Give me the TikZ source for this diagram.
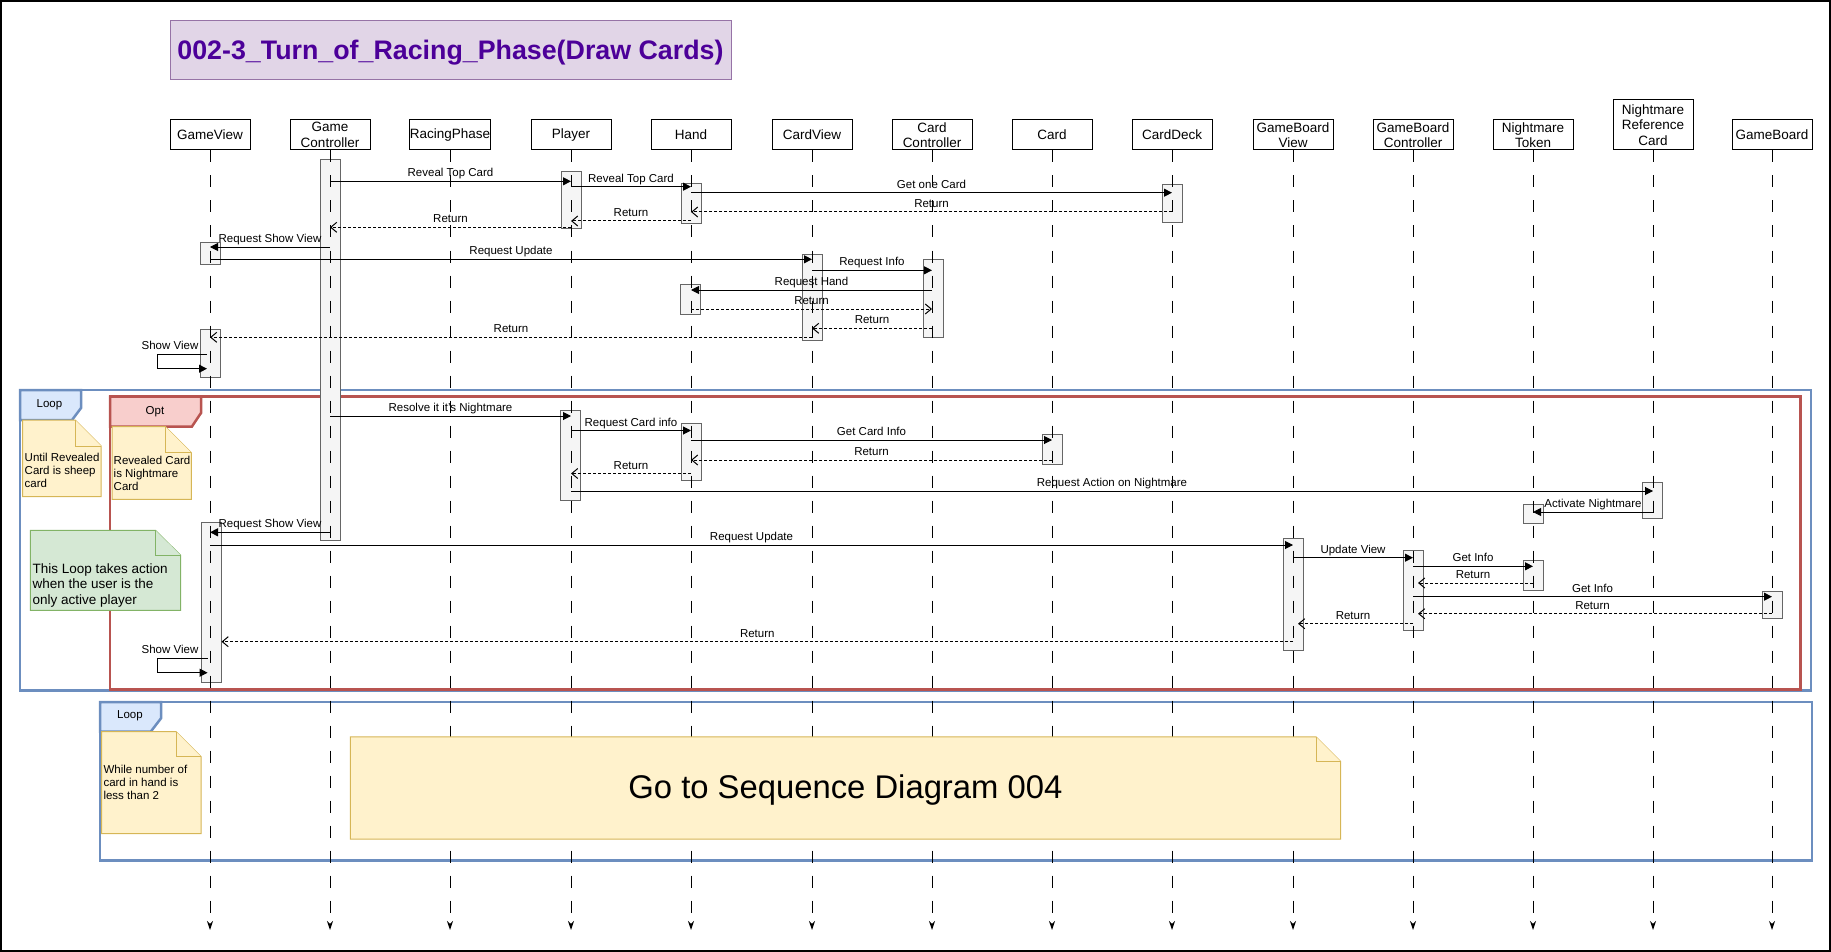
\documentclass[tikz,border=0pt]{standalone}
\usepackage{fontspec}
\setmainfont{Liberation Sans}
\usetikzlibrary{arrows.meta}

\definecolor{loopblue}{HTML}{6C8EBF}
\definecolor{loopfill}{HTML}{DAE8FC}
\definecolor{optred}{HTML}{B85450}
\definecolor{optfill}{HTML}{F8CECC}
\definecolor{noteline}{HTML}{D6B656}
\definecolor{notefill}{HTML}{FFF2CC}
\definecolor{greenline}{HTML}{82B366}
\definecolor{greenfill}{HTML}{D5E8D4}
\definecolor{titleline}{HTML}{9673A6}
\definecolor{titlefill}{HTML}{E1D5E7}
\definecolor{titletext}{HTML}{4C0099}
\definecolor{actline}{HTML}{666666}
\definecolor{actfill}{HTML}{F5F5F5}

\begin{document}
\begin{tikzpicture}[
        x=1pt, y=-1pt,
        every node/.style={inner sep=0pt, font=\fontsize{11.5}{13}\selectfont},
        head/.style={draw, fill=white, line width=1pt, minimum width=80pt, minimum height=30pt,
          align=center, font=\fontsize{13.5}{15.5}\selectfont},
        life/.style={line width=1pt, dash pattern=on 12pt off 13pt, -{Stealth[length=9pt,width=6pt]}},
        act/.style={draw=actline, fill=actfill, line width=1pt, minimum width=20pt},
        msg/.style={line width=1pt, -{Triangle[length=8pt,width=8pt]}},
        ret/.style={line width=1pt, dash pattern=on 3pt off 2pt, -{Straight Barb[length=6pt,width=10pt]}},
        lbl/.style={anchor=base, yshift=4.5pt},
        frameloop/.style={draw=loopblue, line width=2.5pt},
        frameopt/.style={draw=optred, line width=2.5pt},
        note/.style={draw=noteline, fill=notefill, line width=1pt},
        greennote/.style={draw=greenline, fill=greenfill, line width=1pt},
        notetxt/.style={anchor=north west, align=left}
      ]
      \useasboundingbox (0,0) rectangle (1831,952);
      \draw[line width=2pt] (1,1) rectangle (1830,951);

      % title
      \draw[draw=titleline, fill=titlefill, line width=1pt] (170,20.7) rectangle (731,80);
      \node[anchor=base, text=titletext, font=\fontsize{26.8}{32}\selectfont\bfseries] (title)
        at (450.5,59.6) {002-3\_Turn\_of\_Racing\_Phase(Draw Cards)};

      % frames
      \draw[frameloop] (20,390) rectangle (1811,690.7);
      \draw[frameloop, fill=loopfill] (20,390) -- (81,390) -- (81,408) -- (72,420) -- (20,420) -- cycle;
      \node (loop1) at (49.4,405) {Loop};
      \draw[frameopt] (110,396.7) rectangle (1800.4,689.3);
      \draw[frameopt, fill=optfill] (110,396.7) -- (201,396.7) -- (201,413) -- (191.8,426.7) -- (110,426.7) -- cycle;
      \node (opt) at (155,412) {Opt};
      \draw[frameloop] (100,702) rectangle (1812,860.5);
      \draw[frameloop, fill=loopfill] (100,702) -- (161,702) -- (161,718.3) -- (150.7,731.7) -- (100,731.7) -- cycle;
      \node (loop2) at (130,716) {Loop};

      % lifelines
      \foreach \n/\x/\t in {gv/210/GameView, gc/330/{Game\\Controller}, rp/450/RacingPhase,
          pl/571/Player, hd/691/Hand, cv/812/CardView, cc/932/{Card\\Controller}, cd/1052/Card,
          dk/1172/CardDeck, gbv/1293/{GameBoard\\View}, gbc/1413/{GameBoard\\Controller},
          nt/1533/{Nightmare\\Token}, gb/1772/GameBoard}
        \node[head] (\n) at (\x,135) {\t};
      \node[head, minimum height=50pt] (nrc) at (1653,125) {Nightmare\\Reference\\Card};

      % activations
      \node[act, minimum height=380pt] (gca) at (gc |- 0,350) {};
      \node[act, minimum height=56.6pt] (pla1) at (pl |- 0,200) {};
      \node[act, minimum height=40pt] (hda1) at (hd |- 0,203.3) {};
      \node[act, minimum height=38pt] (dka) at (dk |- 0,203.3) {};
      \node[act, minimum height=22.3pt] (gva1) at (gv |- 0,253.2) {};
      \node[act, minimum height=86.4pt] (cva) at (cv |- 0,297.5) {};
      \node[act, minimum height=78.3pt] (cca) at (933,298.2) {};
      \node[act, minimum height=30pt] (hda2) at (690,299.3) {};
      \node[act, minimum height=48pt] (gva2) at (210.5,353) {};
      \node[act, minimum height=89.3pt] (pla2) at (570,455.4) {};
      \node[act, minimum height=56.7pt] (hda3) at (hd |- 0,451.7) {};
      \node[act, minimum height=30pt] (cda) at (cd |- 0,449.3) {};
      \node[act, minimum height=36.4pt] (nrca) at (1652,500.5) {};
      \node[act, minimum height=19.4pt] (nta1) at (nt |- 0,514) {};
      \node[act, minimum height=160pt] (gva3) at (211,602.3) {};
      \node[act, minimum height=112.4pt] (gbva) at (gbv |- 0,594.5) {};
      \node[act, minimum height=80pt] (gbca) at (gbc |- 0,590.3) {};
      \node[act, minimum height=30pt] (nta2) at (nt |- 0,575.3) {};
      \node[act, minimum height=27.7pt] (gba) at (gb |- 0,604.9) {};

      \foreach \n in {gv,gc,rp,pl,hd,cv,cc,cd,dk,gbv,gbc,nt,nrc,gb}
        \draw[life] (\n.south) -- (\n |- 0,930);

      % messages, draw phase
      \draw[msg] (gc |- 0,181.3) -- node[lbl] {Reveal Top Card} (pl |- 0,181.3);
      \draw[msg] (pl |- 0,186.7) -- node[lbl] {Reveal Top Card} (hd |- 0,186.7);
      \draw[msg] (hd |- 0,192.7) -- node[lbl] {Get one Card} (dk |- 0,192.7);
      \draw[ret] (dk |- 0,212) -- node[lbl] {Return} (hd |- 0,212);
      \draw[ret] (hd |- 0,221) -- node[lbl] {Return} (pl |- 0,221);
      \draw[ret] (pl |- 0,227.3) -- node[lbl] {Return} (gc |- 0,227.3);
      \draw[msg] (gc |- 0,247) -- node[lbl] {Request Show View} (gv |- 0,247);
      \draw[msg] (gv |- 0,259.3) -- node[lbl] {Request Update} (cv |- 0,259.3);
      \draw[msg] (cv |- 0,270.3) -- node[lbl] {Request Info} (cc |- 0,270.3);
      \draw[msg] (cc |- 0,290) -- node[lbl] {Request Hand} (hd |- 0,290);
      \draw[ret] (hd |- 0,309) -- node[lbl] {Return} (cc |- 0,309);
      \draw[ret] (cc |- 0,328.3) -- node[lbl] {Return} (cv |- 0,328.3);
      \draw[ret] (cv |- 0,337.3) -- node[lbl] {Return} (gv |- 0,337.3);
      \coordinate (sv1) at (207,354.3);
      \draw[msg] (sv1) -- ++(-50,0) -- ++(0,14.4) -- ++(50,0);
      \node[anchor=base] (sv1l) at (170,349.5) {Show View};

      % messages, loop and opt
      \draw[msg] (gc |- 0,416) -- node[lbl] {Resolve it it's Nightmare} (pl |- 0,416);
      \draw[msg] (pl |- 0,430.5) -- node[lbl] {Request Card info} (hd |- 0,430.5);
      \draw[msg] (hd |- 0,440) -- node[lbl] {Get Card Info} (cd |- 0,440);
      \draw[ret] (cd |- 0,460) -- node[lbl] {Return} (hd |- 0,460);
      \draw[ret] (hd |- 0,473.5) -- node[lbl] {Return} (pl |- 0,473.5);
      \draw[msg] (pl |- 0,491) -- node[lbl] {Request Action on Nightmare} (nrc |- 0,491);
      \draw[msg] (nrc |- 0,512) -- node[lbl] {Activate Nightmare} (nt |- 0,512);
      \draw[msg] (gc |- 0,532.3) -- node[lbl] {Request Show View} (gv |- 0,532.3);
      \draw[msg] (gv |- 0,545) -- node[lbl] {Request Update} (gbv |- 0,545);
      \draw[msg] (gbv |- 0,557.7) -- node[lbl] {Update View} (gbc |- 0,557.7);
      \draw[msg] (gbc |- 0,566.3) -- node[lbl] {Get Info} (nt |- 0,566.3);
      \draw[ret, shorten >=5pt] (nt |- 0,583) -- node[lbl] {Return} (gbc |- 0,583);
      \draw[msg] (gbc |- 0,596.7) -- node[lbl] {Get Info} (gb |- 0,596.7);
      \draw[ret, shorten >=5pt] (gb |- 0,613.7) -- node[lbl] {Return} (gbc |- 0,613.7);
      \draw[ret, shorten >=5pt] (gbc |- 0,623.7) -- node[lbl] {Return} (gbv |- 0,623.7);
      \draw[ret] (gbv |- 0,641.7) -- node[lbl] {Return} (gva3.east |- 0,641.7);
      \coordinate (sv2) at (207.6,658.3);
      \draw[msg] (sv2) -- ++(-50,0) -- ++(0,14.4) -- ++(50,0);
      \node[anchor=base] (sv2l) at (170,653) {Show View};

      % notes
      \draw[note] (22.5,420) -- (75.2,420) -- (101.2,446) -- (101.2,496.7) -- (22.5,496.7) -- cycle;
      \draw[note] (75.2,420) -- (75.2,446) -- (101.2,446);
      \node[notetxt] (n1) at (24.5,452.6) {Until Revealed\\Card is sheep\\card};
      \draw[note] (112,426.7) -- (165.4,426.7) -- (191.4,452.7) -- (191.4,499.3) -- (112,499.3) -- cycle;
      \draw[note] (165.4,426.7) -- (165.4,452.7) -- (191.4,452.7);
      \node[notetxt] (n2) at (113.5,455.6) {Revealed Card\\is Nightmare\\Card};
      \draw[greennote] (30.4,530.3) -- (155.4,530.3) -- (180.7,555.3) -- (180.7,610.3) -- (30.4,610.3) -- cycle;
      \draw[greennote] (155.4,530.3) -- (155.4,555.3) -- (180.7,555.3);
      \node[notetxt, font=\fontsize{13.5}{15.5}\selectfont] (n3) at (32.4,563.1)
        {This Loop takes action\\when the user is the\\only active player};
      \draw[note] (101.7,731.7) -- (176,731.7) -- (201,756.7) -- (201,833.7) -- (101.7,833.7) -- cycle;
      \draw[note] (176,731.7) -- (176,756.7) -- (201,756.7);
      \node[notetxt, font=\fontsize{11.5}{12.7}\selectfont] (n4) at (103.3,765.1)
        {While number of\\card in hand is\\less than 2};
      \draw[note] (350.3,736.9) -- (1316,736.9) -- (1340.5,761.4) -- (1340.5,839.2) -- (350.3,839.2) -- cycle;
      \draw[note] (1316,736.9) -- (1316,761.4) -- (1340.5,761.4);
      \node[anchor=base, font=\fontsize{32.8}{39}\selectfont] (goto) at (845.4,798.7) {Go to Sequence Diagram 004};
    \end{tikzpicture}
\end{document}
